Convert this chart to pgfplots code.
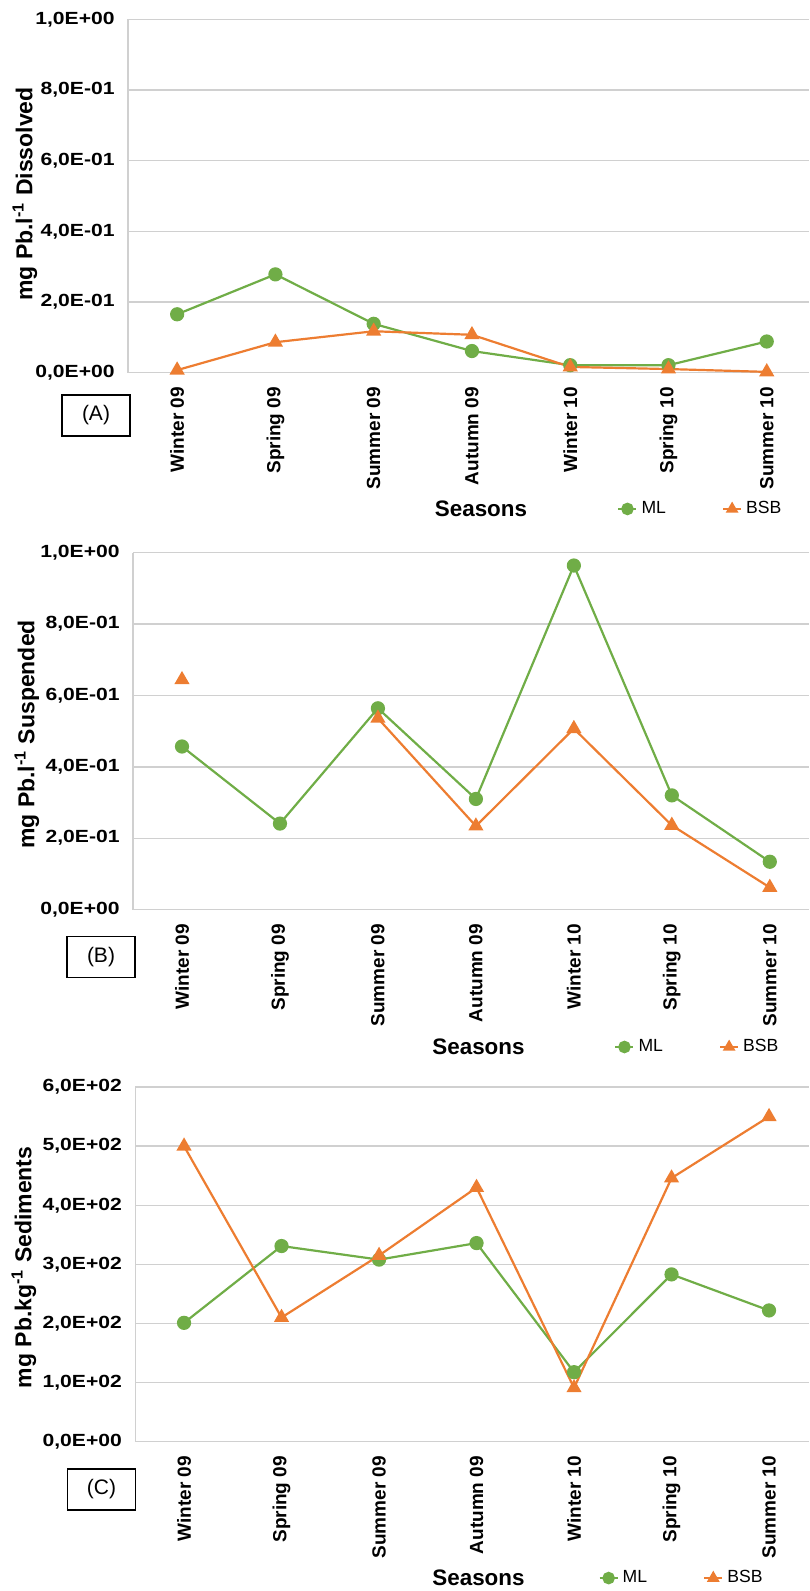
\documentclass[border=0pt]{standalone}
\usepackage{fontspec}
\setmainfont{Liberation Sans}
\newfontfamily\widesans[FakeStretch=1.2]{Liberation Sans}
\usepackage{pgfplots}
\pgfplotsset{compat=1.18}
\definecolor{mlgreen}{HTML}{70AD47}
\definecolor{bsborange}{HTML}{ED7D31}
\definecolor{gridgray}{HTML}{D0D0D0}
\pgfplotsset{
 panel/.style={
  scale only axis, anchor=south west,
  ymin=0, xmin=-0.5,
  xtick={0,...,6},
  xticklabels={Winter 09,Spring 09,Summer 09,Autumn 09,Winter 10,Spring 10,Summer 10},
  xticklabel style={rotate=90, anchor=east, inner sep=0pt, font=\bfseries\fontsize{9.5}{10}\selectfont},
  xticklabel shift=7pt,
  yticklabel style={inner sep=0pt, font=\widesans\bfseries\fontsize{8.8}{10}\selectfont},
  yticklabel shift=6.5pt,
  major tick length=0pt,
  axis lines*=left,
  x axis line style={draw=none},
  y axis line style={draw=gridgray, line width=0.7pt},
  ymajorgrids, grid style={draw=gridgray, line width=0.7pt},
  legend columns=2,
  legend style={draw=none, fill=none, inner sep=0pt, anchor=west, font=\fontsize{8.8}{10}\selectfont, /tikz/every even column/.append style={column sep=26pt}},
  legend image code/.code={\draw[mark repeat=2, mark phase=2, mark size=2.6pt] plot coordinates {(0pt,0pt) (4.5pt,0pt) (9pt,0pt)};},
  clip=false,
  unbounded coords=jump,
 },
 mlstyle/.style={color=mlgreen, line width=1.1pt, mark=*, mark size=3pt},
 bsbstyle/.style={color=bsborange, line width=1.1pt, mark=triangle*, mark size=3.3pt},
}
\tikzset{
 ylab/.style={font=\bfseries\fontsize{11.5}{12}\selectfont, rotate=90},
 xlab/.style={font=\bfseries\fontsize{11.2}{12}\selectfont},
 pbox/.style={draw, line width=0.6pt, minimum width=34pt, minimum height=20.5pt, inner sep=0pt, font=\fontsize{10.5}{12}\selectfont},
}
\begin{document}
\begin{tikzpicture}
\useasboundingbox (0,0) rectangle (404.5pt,795.5pt);
% Panel A
\begin{axis}[panel, at={(64pt,609.2pt)}, width=340.5pt, height=176.65pt, xmax=6.43, ymax=1,
  ytick={0,0.2,0.4,0.6,0.8,1},
  yticklabels={{0,0E+00},{2,0E-01},{4,0E-01},{6,0E-01},{8,0E-01},{1,0E+00}},
  legend style={at={(0.718,-0.386)}}]
\addplot[mlstyle] coordinates {(0,0.165) (1,0.278) (2,0.138) (3,0.061) (4,0.021) (5,0.021) (6,0.088)};
\addplot[bsbstyle] coordinates {(0,0.007) (1,0.086) (2,0.117) (3,0.107) (4,0.016) (5,0.010) (6,0.002)};
\legend{ML,BSB}
\end{axis}
\node[ylab] at (12.5pt,698.5pt) {mg Pb.l\textsuperscript{-1} Dissolved};
\node[xlab] at (240.5pt,541pt) {Seasons};
\node[pbox] at (48pt,587.75pt) {(A)};
% Panel B
\begin{axis}[panel, at={(66.5pt,340.7pt)}, width=338pt, height=178.45pt, xmax=6.40, ymax=1,
  ytick={0,0.2,0.4,0.6,0.8,1},
  yticklabels={{0,0E+00},{2,0E-01},{4,0E-01},{6,0E-01},{8,0E-01},{1,0E+00}},
  legend style={at={(0.7115,-0.385)}}]
\addplot[mlstyle] coordinates {(0,0.457) (1,0.241) (2,0.564) (3,0.310) (4,0.964) (5,0.320) (6,0.134)};
\addplot[bsbstyle] coordinates {(0,0.644) (1,nan) (2,0.536) (3,0.234) (4,0.507) (5,0.236) (6,0.062)};
\legend{ML,BSB}
\end{axis}
\node[ylab] at (13.5pt,428.25pt) {mg Pb.l\textsuperscript{-1} Suspended};
\node[xlab] at (239.25pt,272pt) {Seasons};
\node[pbox] at (50.5pt,317pt) {(B)};
% Panel C
\begin{axis}[panel, at={(67.65pt,74.7pt)}, width=336.85pt, height=177.25pt, xmax=6.41, ymax=600,
  ytick={0,100,200,300,400,500,600},
  yticklabels={{0,0E+00},{1,0E+02},{2,0E+02},{3,0E+02},{4,0E+02},{5,0E+02},{6,0E+02}},
  legend style={at={(0.687,-0.385)}}]
\addplot[mlstyle] coordinates {(0,201) (1,331) (2,308) (3,336) (4,117.5) (5,283) (6,222)};
\addplot[bsbstyle] coordinates {(0,500) (1,210) (2,315) (3,430) (4,91) (5,446) (6,550)};
\legend{ML,BSB}
\end{axis}
\node[ylab] at (12pt,161.8pt) {mg Pb.kg\textsuperscript{-1} Sediments};
\node[xlab] at (239.25pt,6.5pt) {Seasons};
\node[pbox] at (50.75pt,50.75pt) {(C)};
\end{tikzpicture}
\end{document}
